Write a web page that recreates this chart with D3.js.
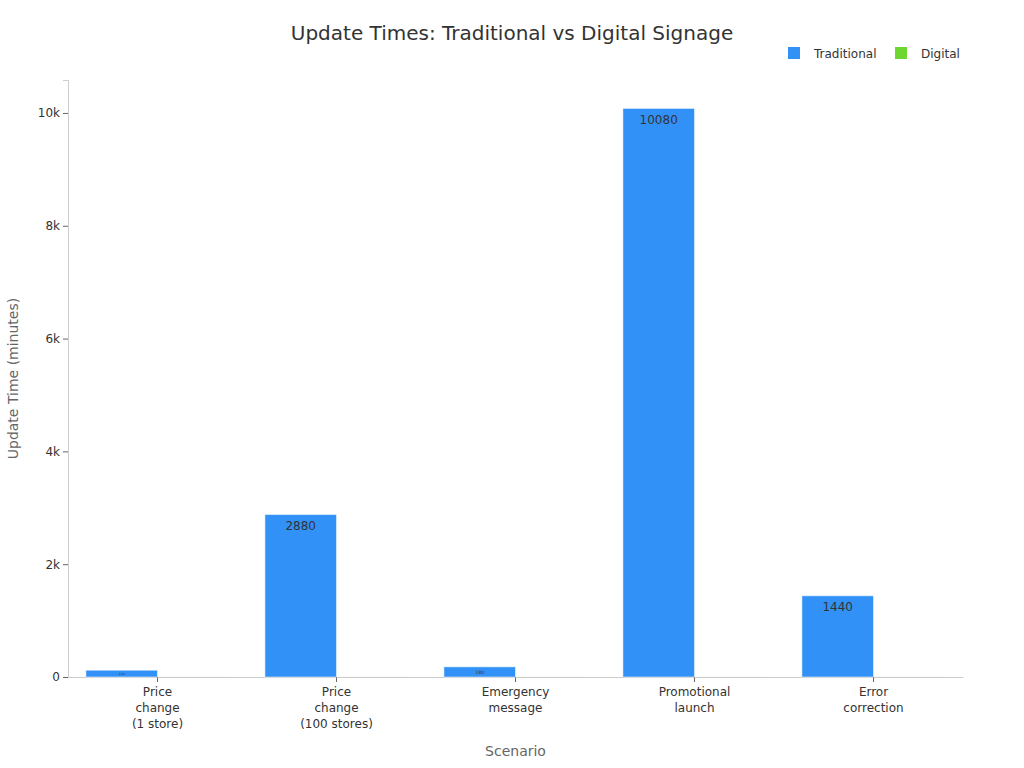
<!DOCTYPE html>
<html>
<head>
<meta charset="utf-8">
<script src="https://cdn.jsdelivr.net/npm/d3@7"></script>
<style>
  html, body { margin: 0; padding: 0; background: #fff; }
  svg { display: block; font-family: "DejaVu Sans", sans-serif; }
</style>
</head>
<body>
<svg id="chart" width="1024" height="768"></svg>
<script>
const categories = ["Price change (1 store)", "Price change (100 stores)", "Emergency message", "Promotional launch", "Error correction"];
const seriesNames = ["Traditional", "Digital"];
const traditional = [120, 2880, 180, 10080, 1440];
const digital = [1, 1, 1, 1, 1];
const yTicks = [0, 2000, 4000, 6000, 8000, 10000];
const colors = ["#3291f7", "#6dd630"];

const svg = d3.select("#chart");
const margin = {left: 68, right: 61, top: 80, bottom: 91};
const W = 1024, H = 768;
const x0 = d3.scaleBand().domain(categories).range([margin.left, W - margin.right]).paddingInner(0.2).paddingOuter(0.1);
const x1 = d3.scaleBand().domain(seriesNames).range([0, x0.bandwidth()]);
const maxV = d3.max(traditional.concat(digital)) * 1.05;
const y = d3.scaleLinear().domain([0, maxV]).range([H - margin.bottom, margin.top]);

// title
svg.append("text").attr("x", 512).attr("y", 40).attr("text-anchor", "middle")
  .attr("font-size", 20).attr("fill", "#333").text("Update Times: Traditional vs Digital Signage");

// legend
const legend = [{name: "Traditional", x: 788}, {name: "Digital", x: 895}];
legend.forEach((l, i) => {
  svg.append("rect").attr("x", l.x).attr("y", 47).attr("width", 12).attr("height", 12).attr("fill", colors[i]);
  svg.append("text").attr("x", l.x + 26).attr("y", 58).attr("font-size", 12).attr("fill", "#333").text(seriesNames[i]);
});

// y axis
const yAxis = d3.axisLeft(y).tickValues(yTicks).tickSize(5).tickPadding(3)
  .tickFormat(d => d === 0 ? "0" : (d / 1000) + "k");
const gy = svg.append("g").attr("transform", `translate(${margin.left},0)`).call(yAxis);
gy.select(".domain").attr("stroke", "#ccc");
gy.selectAll(".tick line").attr("stroke", "#666");
gy.selectAll(".tick text").attr("font-size", 12).attr("fill", "#333").attr("font-family", "DejaVu Sans, sans-serif");

// x axis
const xAxis = d3.axisBottom(x0).tickSize(5).tickSizeOuter(0).tickFormat("");
const gx = svg.append("g").attr("transform", `translate(0,${H - margin.bottom})`).call(xAxis);
gx.select(".domain").attr("stroke", "#ccc");
gx.selectAll(".tick line").attr("stroke", "#666");
gx.selectAll(".tick").each(function(d) {
  const parts = d.match(/\([^)]*\)|\S+/g);
  const t = d3.select(this).append("text").attr("fill", "#333").attr("font-size", 12)
    .attr("font-family", "DejaVu Sans, sans-serif").attr("text-anchor", "middle");
  parts.forEach((p, i) => {
    t.append("tspan").attr("x", 0).attr("y", 19 + i * 16).text(p);
  });
});

// axis titles
svg.append("text").attr("x", (margin.left + W - margin.right) / 2).attr("y", 756).attr("text-anchor", "middle")
  .attr("font-size", 14).attr("fill", "#666").text("Scenario");
svg.append("text").attr("transform", `translate(18,${(margin.top + H - margin.bottom) / 2}) rotate(-90)`)
  .attr("text-anchor", "middle").attr("font-size", 14).attr("fill", "#666").text("Update Time (minutes)");

// bars
const data = categories.map((c, i) => ({c, vals: [traditional[i], digital[i]]}));
const groups = svg.append("g").selectAll("g").data(data).join("g")
  .attr("transform", d => `translate(${x0(d.c)},0)`);
groups.selectAll("rect").data(d => d.vals.map((v, k) => ({v, k})))
  .join("rect")
  .attr("x", d => x1(seriesNames[d.k]))
  .attr("width", x1.bandwidth())
  .attr("y", d => y(d.v))
  .attr("height", d => y(0) - y(d.v))
  .attr("fill", d => colors[d.k])
  .attr("stroke", d => d.k === 0 ? "#fff" : "none").attr("stroke-opacity", 0.5).attr("stroke-width", 1);

// labels (traditional only visible)
groups.each(function(d) {
  const v = d.vals[0];
  const h = y(0) - y(v);
  const fs = Math.min(12, h * 0.45);
  if (fs < 2) return;
  d3.select(this).append("text")
    .attr("x", x1(seriesNames[0]) + x1.bandwidth() / 2)
    .attr("y", y(v) + Math.min(11, h / 2))
    .attr("dy", "0.35em")
    .attr("text-anchor", "middle").attr("font-size", fs).attr("fill", "#333").text(v);
});
</script>
</body>
</html>
